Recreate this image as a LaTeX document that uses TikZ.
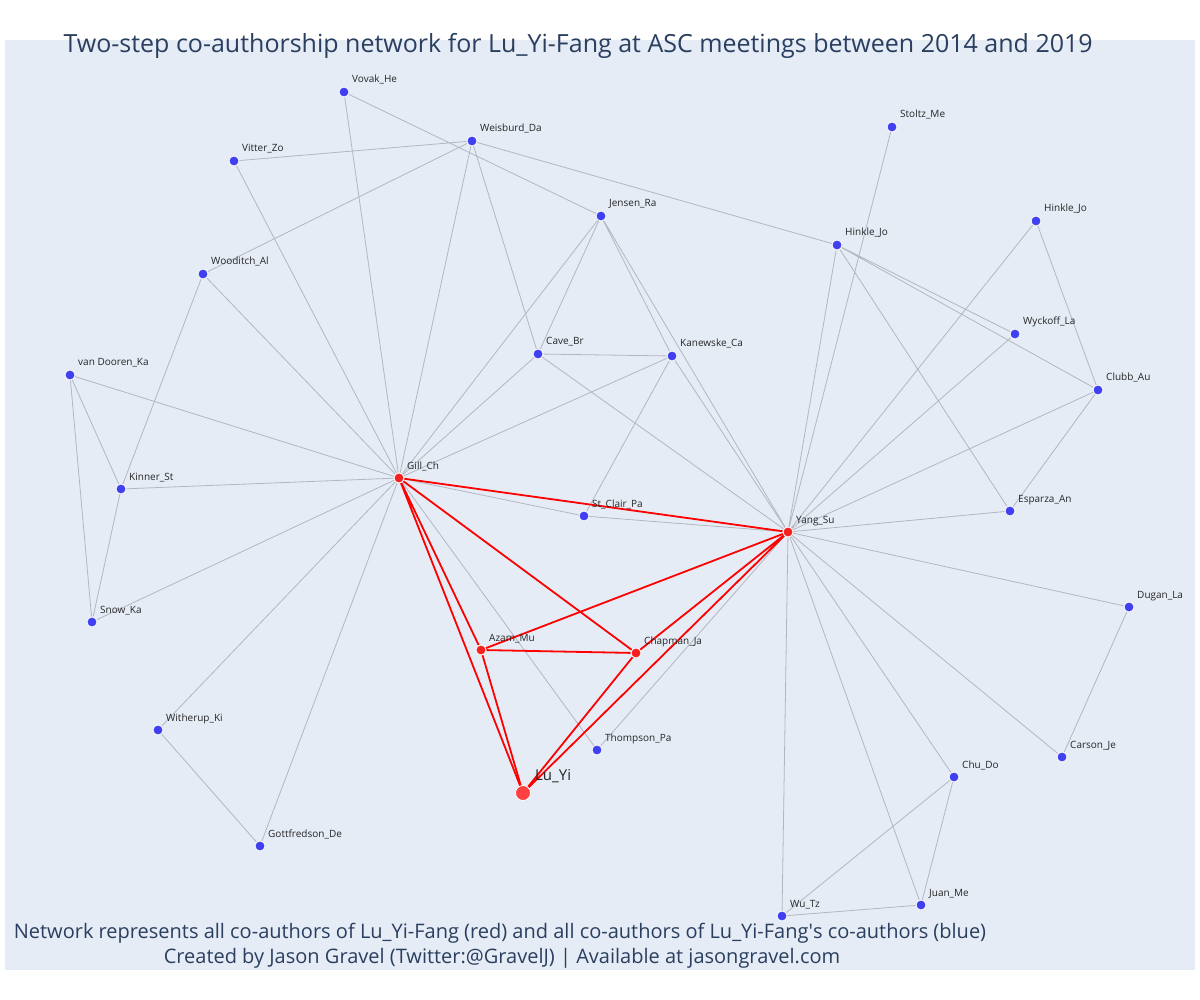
\documentclass[tikz,border=0pt]{standalone}
\usepackage{fontspec}
\setmainfont{Open Sans}
\usepackage{xcolor}
\usepackage{tikz}

\definecolor{plotbg}{HTML}{E5ECF6}
\definecolor{titleblue}{HTML}{2A3F5F}
\definecolor{nodeblue}{HTML}{4040F0}
\definecolor{nodered}{HTML}{F52020}
\definecolor{egored}{HTML}{FF4040}
\definecolor{edgegray}{HTML}{B4B6C2}

\pgfdeclarelayer{bg}
\pgfdeclarelayer{edges}
\pgfsetlayers{bg,edges,main}

\tikzset{
  coauth/.style={circle, fill=nodeblue, draw=white, line width=0.8pt, minimum size=10pt, inner sep=0pt},
  core/.style={coauth, fill=nodered},
  ego/.style={coauth, fill=egored, minimum size=15pt},
  lbl/.style={anchor=base west, inner sep=0pt, xshift=8pt, yshift=9pt, text=black!85, font=\fontsize{10}{12}\selectfont},
  egolbl/.style={lbl, xshift=4pt, yshift=4pt, font=\fontsize{15}{18}\selectfont},
  tie/.style={edgegray, line width=0.8pt},
  redtie/.style={red, line width=1.8pt},
}

\begin{document}
\begin{tikzpicture}[x=1pt, y=-1pt]
        \useasboundingbox (0,0) rectangle (1200,1000);
        \begin{pgfonlayer}{bg}
          \fill[plotbg] (5,40) rectangle (1195,970);
        \end{pgfonlayer}

        % Title and notes
        \node[anchor=base west, text=titleblue, font=\fontsize{25}{30}\selectfont] (title) at (60,53) {Two-step co-authorship network for Lu\_Yi-Fang at ASC meetings between 2014 and 2019};
        \node[anchor=base, text=titleblue, font=\fontsize{20}{24}\selectfont] (note) at (500,938) {Network represents all co-authors of Lu\_Yi-Fang (red) and all co-authors of Lu\_Yi-Fang\textquotesingle s co-authors (blue)};
        \node[anchor=base, text=titleblue, font=\fontsize{20}{24}\selectfont] (credit) at (502,963) {Created by Jason Gravel (Twitter:@GravelJ) | Available at jasongravel.com};

        % Co-authors of co-authors
        \node[coauth] (vovak) at (344,92) {};
        \node[coauth] (weisburd) at (472,141) {};
        \node[coauth] (vitter) at (234,161) {};
        \node[coauth] (stoltz) at (892,127) {};
        \node[coauth] (jensen) at (601,216) {};
        \node[coauth] (hinkleA) at (837,245) {};
        \node[coauth] (hinkleB) at (1036,221) {};
        \node[coauth] (wooditch) at (203,274) {};
        \node[coauth] (wyckoff) at (1015,334) {};
        \node[coauth] (cave) at (538,354) {};
        \node[coauth] (kanewske) at (672,356) {};
        \node[coauth] (vandooren) at (70,375) {};
        \node[coauth] (clubb) at (1098,390) {};
        \node[coauth] (kinner) at (121,489) {};
        \node[coauth] (stclair) at (584,516) {};
        \node[coauth] (esparza) at (1010,511) {};
        \node[coauth] (dugan) at (1129,607) {};
        \node[coauth] (snow) at (92,622) {};
        \node[coauth] (witherup) at (158,730) {};
        \node[coauth] (thompson) at (597,750) {};
        \node[coauth] (carson) at (1062,757) {};
        \node[coauth] (chu) at (954,777) {};
        \node[coauth] (gottfredson) at (260,846) {};
        \node[coauth] (juan) at (921,905) {};
        \node[coauth] (wu) at (782,916) {};

        % Co-authors (red)
        \node[core] (gill) at (399,478) {};
        \node[core] (yang) at (788,532) {};
        \node[core] (azam) at (481,650) {};
        \node[core] (chapman) at (636,653) {};
        \node[ego] (luyi) at (523,793) {};

        % Names
        \node[lbl] (vovak-l) at (vovak) {Vovak\_He};
        \node[lbl] (weisburd-l) at (weisburd) {Weisburd\_Da};
        \node[lbl] (vitter-l) at (vitter) {Vitter\_Zo};
        \node[lbl] (stoltz-l) at (stoltz) {Stoltz\_Me};
        \node[lbl] (jensen-l) at (jensen) {Jensen\_Ra};
        \node[lbl] (hinkleA-l) at (hinkleA) {Hinkle\_Jo};
        \node[lbl] (hinkleB-l) at (hinkleB) {Hinkle\_Jo};
        \node[lbl] (wooditch-l) at (wooditch) {Wooditch\_Al};
        \node[lbl] (wyckoff-l) at (wyckoff) {Wyckoff\_La};
        \node[lbl] (cave-l) at (cave) {Cave\_Br};
        \node[lbl] (kanewske-l) at (kanewske) {Kanewske\_Ca};
        \node[lbl] (vandooren-l) at (vandooren) {van Dooren\_Ka};
        \node[lbl] (clubb-l) at (clubb) {Clubb\_Au};
        \node[lbl] (kinner-l) at (kinner) {Kinner\_St};
        \node[lbl] (stclair-l) at (stclair) {St\_Clair\_Pa};
        \node[lbl] (esparza-l) at (esparza) {Esparza\_An};
        \node[lbl] (dugan-l) at (dugan) {Dugan\_La};
        \node[lbl] (snow-l) at (snow) {Snow\_Ka};
        \node[lbl] (witherup-l) at (witherup) {Witherup\_Ki};
        \node[lbl] (thompson-l) at (thompson) {Thompson\_Pa};
        \node[lbl] (carson-l) at (carson) {Carson\_Je};
        \node[lbl] (chu-l) at (chu) {Chu\_Do};
        \node[lbl] (gottfredson-l) at (gottfredson) {Gottfredson\_De};
        \node[lbl] (juan-l) at (juan) {Juan\_Me};
        \node[lbl] (wu-l) at (wu) {Wu\_Tz};
        \node[lbl] (gill-l) at (gill) {Gill\_Ch};
        \node[lbl] (yang-l) at (yang) {Yang\_Su};
        \node[lbl] (azam-l) at (azam) {Azam\_Mu};
        \node[lbl] (chapman-l) at (chapman) {Chapman\_Ja};
        \node[egolbl] (luyi-l) at (luyi) {Lu\_Yi};

        \begin{pgfonlayer}{edges}
        % Ties around Gill
        \draw[tie] (gill) -- (vovak) (gill) -- (weisburd) (gill) -- (vitter) (gill) -- (wooditch);
        \draw[tie] (gill) -- (vandooren) (gill) -- (kinner) (gill) -- (snow) (gill) -- (witherup);
        \draw[tie] (gill) -- (gottfredson) (gill) -- (jensen) (gill) -- (cave) (gill) -- (kanewske);
        \draw[tie] (gill) -- (stclair) (gill) -- (thompson);
        \draw[tie] (vovak) -- (jensen) (weisburd) -- (vitter) (weisburd) -- (wooditch);
        \draw[tie] (weisburd) -- (cave) (weisburd) -- (hinkleA) (wooditch) -- (kinner);
        \draw[tie] (vandooren) -- (kinner) (vandooren) -- (snow) (kinner) -- (snow);
        \draw[tie] (witherup) -- (gottfredson);
        \draw[tie] (jensen) -- (cave) (jensen) -- (kanewske) (jensen) -- (yang);
        \draw[tie] (cave) -- (kanewske) (cave) -- (yang) (kanewske) -- (stclair) (kanewske) -- (yang);
        \draw[tie] (stclair) -- (yang) (thompson) -- (yang);
        % Ties around Yang
        \draw[tie] (yang) -- (hinkleA) (yang) -- (stoltz) (yang) -- (hinkleB) (yang) -- (wyckoff);
        \draw[tie] (yang) -- (clubb) (yang) -- (esparza) (yang) -- (dugan) (yang) -- (carson);
        \draw[tie] (yang) -- (chu) (yang) -- (juan) (yang) -- (wu);
        \draw[tie] (hinkleA) -- (wyckoff) (hinkleA) -- (clubb) (hinkleA) -- (esparza);
        \draw[tie] (hinkleB) -- (clubb) (clubb) -- (esparza) (dugan) -- (carson);
        \draw[tie] (chu) -- (wu) (chu) -- (juan) (juan) -- (wu);
        % Ties among Lu_Yi's co-authors
        \draw[redtie] (gill) -- (yang) (gill) -- (azam) (gill) -- (chapman) (gill) -- (luyi);
        \draw[redtie] (azam) -- (luyi) (azam) -- (chapman) (azam) -- (yang);
        \draw[redtie] (chapman) -- (luyi) (chapman) -- (yang) (yang) -- (luyi);
        \end{pgfonlayer}
\end{tikzpicture}
\end{document}
